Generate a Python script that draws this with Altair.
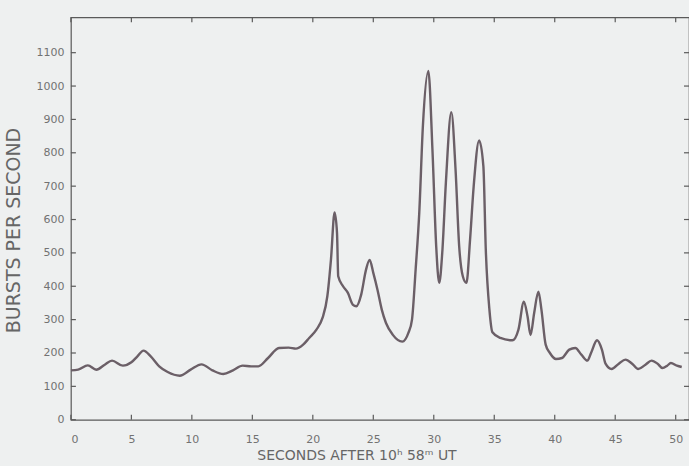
import altair as alt
import pandas as pd

seconds = [0.0, 0.6, 1.4, 2.1, 2.8, 3.4, 4.3, 5.0, 5.5, 6.0, 6.6, 7.3, 8.0, 9.0, 9.9,
           10.8, 11.7, 12.6, 13.4, 14.2, 14.9, 15.5, 16.3, 17.2, 18.0, 18.6, 19.2,
           19.7, 20.3, 20.8, 21.2, 21.5, 21.8, 22.0, 22.1, 22.5, 22.9, 23.3, 23.6,
           24.0, 24.4, 24.7, 25.0, 25.35, 25.7, 26.05, 26.6, 27.4, 27.9, 28.2, 28.5,
           28.8, 29.1, 29.55, 29.9, 30.2, 30.45, 30.7, 31.0, 31.45, 31.8, 32.1, 32.4,
           32.7, 33.0, 33.3, 33.75, 34.1, 34.3, 34.6, 34.85, 35.5, 36.5, 37.0, 37.45,
           37.75, 38.0, 38.3, 38.65, 38.9, 39.25, 39.6, 40.1, 40.6, 41.2, 41.7, 42.2,
           42.7, 43.0, 43.5, 43.9, 44.2, 44.7, 45.3, 45.85, 46.4, 46.9, 47.5, 48.0,
           48.5, 48.9, 49.3, 49.6, 50.1, 50.5]
bursts = [148, 150, 163, 150, 165, 177, 162, 172, 190, 207, 190, 160, 143, 132, 150,
          166, 148, 137, 148, 162, 160, 160, 185, 215, 216, 213, 225,
          245, 270, 305, 370, 480, 621, 560, 430, 400, 380, 345, 340,
          375, 450, 479, 440, 389, 330, 290, 255, 234, 260, 300, 450,
          620, 880, 1045, 800, 520, 410, 500, 710, 922, 750, 520, 430,
          410, 540, 700, 837, 760, 510, 330, 262, 245, 238, 270, 354,
          310, 254, 320, 384, 330, 225, 200, 182, 185, 210, 215, 195,
          177, 200, 238, 210, 168, 152, 168, 180, 168, 152, 165, 177,
          168, 155, 162, 170, 162, 158]

x_ticks = [0, 5, 10, 15, 20, 25, 30, 35, 40, 45, 50]
y_ticks = [0, 100, 200, 300, 400, 500, 600, 700, 800, 900, 1000, 1100]

df = pd.DataFrame({"t": seconds, "b": bursts})
xt = pd.DataFrame({"t": x_ticks})
yt = pd.DataFrame({"b": y_ticks})

W, H = 619, 403
TL = 5
LINE = "#6b5f67"
LAB = "#727272"
TICK = "#5a5a5a"
FONT = "DejaVu Sans"

xs = alt.Scale(domain=[0, 51.1], nice=False, zero=False)
ys = alt.Scale(domain=[0, 1206], nice=False)

x_axis = alt.Axis(orient="bottom", values=x_ticks, format="d", labelOverlap=False,
                  title="SECONDS AFTER 10ʰ 58ᵐ UT", domain=False, grid=False,
                  ticks=False, labelPadding=14, titlePadding=4,
                  titleX=286, titleAnchor="middle", titleAlign="center",
                  labelFont=FONT, labelColor=LAB, labelFontSize=11,
                  titleFont=FONT, titleColor="#666666", titleFontWeight="normal",
                  titleFontSize=14)
y_axis = alt.Axis(orient="left", values=y_ticks, format="d", labelOverlap=False,
                  title="BURSTS PER SECOND", domain=False, grid=False,
                  ticks=False, labelPadding=7, titlePadding=12,
                  titleY=213, titleAlign="center",
                  labelFont=FONT, labelColor=LAB, labelFontSize=11,
                  titleFont=FONT, titleColor="#666666", titleFontWeight="normal",
                  titleFontSize=19)

line = alt.Chart(df).mark_line(color=LINE, strokeWidth=2.4, interpolate="monotone").encode(
    x=alt.X("t:Q", scale=xs, axis=x_axis),
    y=alt.Y("b:Q", scale=ys, axis=y_axis),
)

rule = dict(color=TICK, strokeWidth=1.2)
bottom_ticks = alt.Chart(xt).mark_rule(**rule).encode(
    x=alt.X("t:Q", scale=xs, axis=x_axis), y=alt.value(H), y2=alt.value(H - TL))
top_ticks = alt.Chart(xt).mark_rule(**rule).encode(
    x=alt.X("t:Q", scale=xs, axis=x_axis), y=alt.value(0), y2=alt.value(TL))
left_ticks = alt.Chart(yt).mark_rule(**rule).encode(
    y=alt.Y("b:Q", scale=ys, axis=y_axis), x=alt.value(0), x2=alt.value(TL))
right_ticks = alt.Chart(yt).mark_rule(**rule).encode(
    y=alt.Y("b:Q", scale=ys, axis=y_axis), x=alt.value(W), x2=alt.value(W - TL))

chart = alt.layer(line, bottom_ticks, top_ticks, left_ticks, right_ticks).properties(
    width=W, height=H,
    autosize=alt.AutoSizeParams(type="none"),
    padding={"left": 71, "top": 17, "right": 0, "bottom": 46},
    background="#eef0f0",
).configure_view(stroke="#5a5a5a", strokeWidth=1.2)

chart.save("out.html", embed_options={"renderer": "svg", "actions": False})
